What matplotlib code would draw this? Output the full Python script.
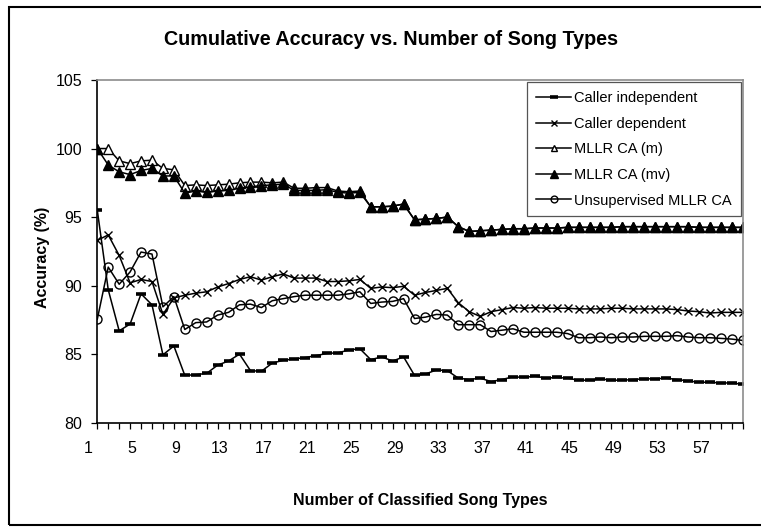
import matplotlib
matplotlib.use("Agg")
import matplotlib.pyplot as plt
import matplotlib.transforms as mtransforms
from matplotlib.patches import Rectangle

plt.rcParams['font.family'] = ['Liberation Sans', 'DejaVu Sans']

# Daten
song_types = list(range(1, 61))

caller_independent = [95.5, 89.7, 86.7, 87.2, 89.4, 88.6, 84.95, 85.6, 83.45, 83.5,
                      83.6, 84.2, 84.5, 85.0, 83.8, 83.75, 84.35, 84.55, 84.65, 84.75,
                      84.9, 85.05, 85.1, 85.3, 85.4, 84.6, 84.8, 84.5, 84.8, 83.45,
                      83.55, 83.85, 83.8, 83.25, 83.15, 83.25, 83.0, 83.15, 83.35, 83.3,
                      83.4, 83.25, 83.3, 83.25, 83.1, 83.1, 83.2, 83.1, 83.1, 83.15,
                      83.2, 83.2, 83.25, 83.15, 83.05, 82.95, 82.95, 82.9, 82.9, 82.8]

caller_dependent = [93.3, 93.7, 92.2, 90.2, 90.45, 90.3, 87.9, 89.1, 89.3, 89.45,
                    89.55, 89.9, 90.15, 90.45, 90.65, 90.4, 90.65, 90.85, 90.55, 90.55,
                    90.55, 90.3, 90.3, 90.35, 90.45, 89.8, 89.9, 89.85, 89.95, 89.3,
                    89.5, 89.65, 89.8, 88.75, 88.1, 87.75, 88.1, 88.25, 88.4, 88.35,
                    88.4, 88.35, 88.35, 88.35, 88.3, 88.3, 88.3, 88.35, 88.35, 88.3,
                    88.3, 88.3, 88.3, 88.25, 88.15, 88.1, 88.0, 88.05, 88.05, 88.05]

mllr_m = [100.0, 100.0, 99.1, 98.9, 99.1, 99.15, 98.55, 98.45, 97.3, 97.35,
          97.3, 97.35, 97.4, 97.5, 97.55, 97.55, 97.5, 97.55, 97.1, 97.1,
          97.15, 97.15, 96.9, 96.85, 96.9, 95.75, 95.75, 95.8, 95.95, 94.8,
          94.85, 94.9, 95.0, 94.3, 93.95, 94.0, 94.05, 94.1, 94.15, 94.15,
          94.2, 94.2, 94.2, 94.25, 94.25, 94.25, 94.25, 94.25, 94.3, 94.3,
          94.3, 94.3, 94.3, 94.3, 94.3, 94.25, 94.25, 94.25, 94.25, 94.25]

mllr_mv = [100.0, 98.8, 98.3, 98.1, 98.4, 98.55, 98.0, 98.0, 96.75, 96.9,
           96.8, 96.9, 96.95, 97.1, 97.2, 97.3, 97.35, 97.4, 96.95, 96.95,
           96.95, 97.0, 96.8, 96.75, 96.8, 95.75, 95.75, 95.8, 95.95, 94.8,
           94.85, 94.9, 95.0, 94.3, 93.95, 94.0, 94.05, 94.1, 94.15, 94.15,
           94.2, 94.2, 94.2, 94.25, 94.25, 94.25, 94.25, 94.25, 94.3, 94.3,
           94.3, 94.3, 94.3, 94.3, 94.3, 94.25, 94.25, 94.25, 94.25, 94.25]

unsupervised = [87.55, 91.35, 90.1, 91.0, 92.45, 92.3, 88.45, 89.2, 86.8, 87.3,
                87.35, 87.85, 88.05, 88.6, 88.65, 88.4, 88.9, 89.05, 89.2, 89.3,
                89.3, 89.3, 89.3, 89.4, 89.55, 88.7, 88.8, 88.85, 89.05, 87.6,
                87.7, 87.9, 87.85, 87.15, 87.15, 87.15, 86.65, 86.75, 86.85, 86.6,
                86.6, 86.6, 86.6, 86.5, 86.2, 86.2, 86.25, 86.2, 86.25, 86.25,
                86.3, 86.3, 86.3, 86.35, 86.25, 86.2, 86.2, 86.15, 86.1, 86.0]

labels = ['Caller independent', 'Caller dependent', 'MLLR CA (m)',
          'MLLR CA (mv)', 'Unsupervised MLLR CA']

W, H = 761, 527
fig = plt.figure(figsize=(W / 100, H / 100), dpi=100)
ax = fig.add_axes([97.3 / W, 1 - 422.7 / H, (742.7 - 97.3) / W, (422.7 - 80) / H])

lw = 1.1
ax.plot(song_types, caller_independent, color='black', lw=lw, marker='_',
        ms=7, mew=2.6, label=labels[0])
ax.plot(song_types, caller_dependent, color='black', lw=lw, marker='x',
        ms=6, mew=1.0, label=labels[1])
ax.plot(song_types, mllr_m, color='black', lw=lw, marker='^', ms=6.5,
        mfc='white', mec='black', mew=1.0, label=labels[2])
ax.plot(song_types, mllr_mv, color='black', lw=lw, marker='^', ms=7,
        mfc='black', mec='black', label=labels[3])
ax.plot(song_types, unsupervised, color='black', lw=lw, marker='o', ms=6.5,
        mfc='none', mec='black', mew=1.0, label=labels[4])

# Achsen
ax.set_xlim(1, 60)
ax.set_ylim(80, 105)
ax.set_yticks([80, 85, 90, 95, 100, 105])
ax.set_xticks(song_types)
ax.set_xticklabels([str(t) if (t - 1) % 4 == 0 else '' for t in song_types])
ax.tick_params(axis='both', direction='out', length=4, width=0.9,
               labelsize=11.5, colors='black', pad=7)
ax.tick_params(axis='x', pad=9)

# x-Beschriftungen leicht nach links verschoben wie im Original
shift = mtransforms.ScaledTranslation(-0.09, 0, fig.dpi_scale_trans)
for lab in ax.get_xticklabels():
    lab.set_transform(lab.get_transform() + shift)

for side in ['left', 'bottom']:
    ax.spines[side].set_color('black')
    ax.spines[side].set_linewidth(1.2)
for side in ['top', 'right']:
    ax.spines[side].set_color('#8c8c8c')
    ax.spines[side].set_linewidth(1.2)

leg = ax.legend(loc='upper right', bbox_to_anchor=(1.0, 1.0), borderaxespad=0.15,
                fancybox=False, edgecolor='#555555', framealpha=1,
                fontsize=10.5, handlelength=2.4, handletextpad=0.2,
                labelspacing=0.8, borderpad=0.6, markerscale=0.75)
leg.get_frame().set_linewidth(0.9)

# Titel und Beschriftungen
fig.text(391 / W, 1 - 45 / H, 'Cumulative Accuracy vs. Number of Song Types',
         ha='center', va='baseline', fontsize=14.2, fontweight='bold')
fig.text(420 / W, 1 - 505 / H, 'Number of Classified Song Types',
         ha='center', va='baseline', fontsize=11.5, fontweight='bold')
fig.text(42 / W, 1 - 257 / H, 'Accuracy (%)', rotation=90,
         ha='center', va='center', fontsize=11.5, fontweight='bold')

# Rahmen um das Diagramm
frame = Rectangle((9 / W, 2 / H), 1.1, (H - 9) / H, transform=fig.transFigure,
                  fill=False, edgecolor='black', lw=1.5, clip_on=False)
fig.add_artist(frame)

fig.savefig('out.png', dpi=100)
